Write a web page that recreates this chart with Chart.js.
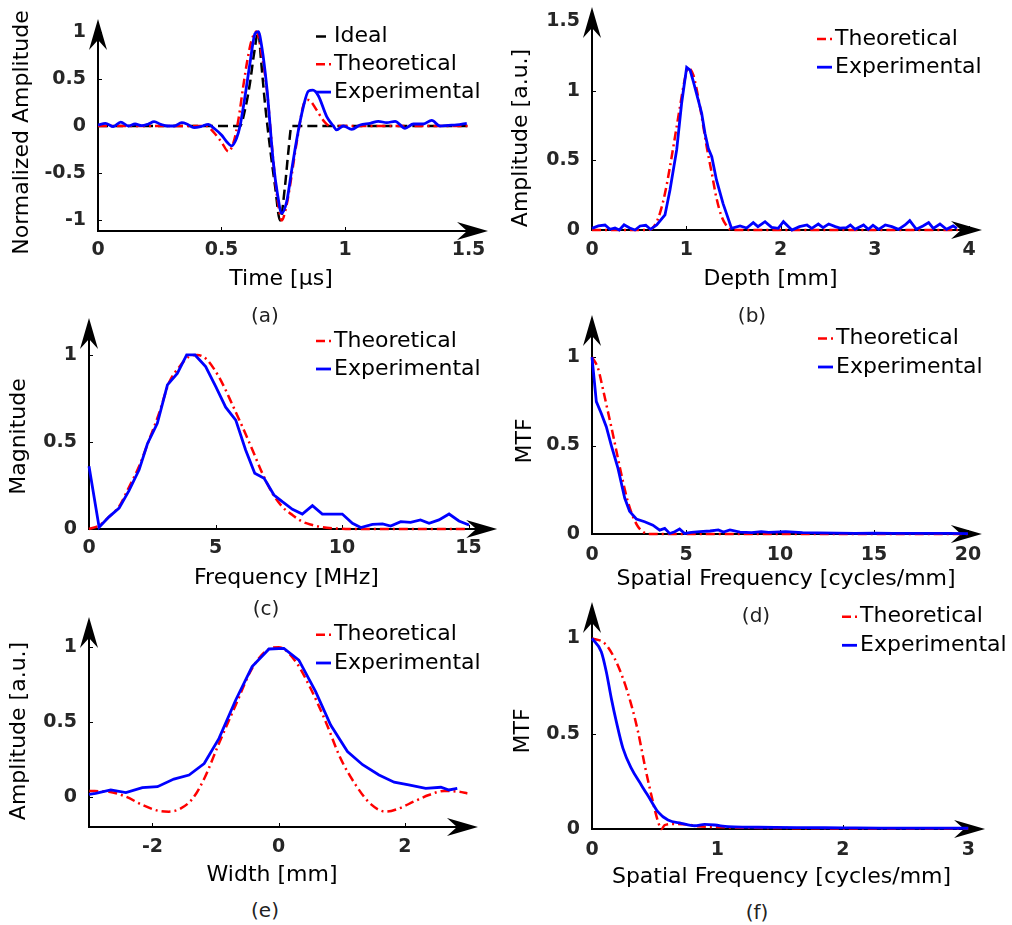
<!DOCTYPE html>
<html><head><meta charset="utf-8">
<script src="https://cdn.jsdelivr.net/npm/chart.js@4.4.1/dist/chart.umd.min.js"></script>
<style>
html,body{margin:0;padding:0;background:#fff;}
#fig{position:relative;width:1012px;height:925px;overflow:hidden;background:#fff;}
canvas{position:absolute;}
.cap{position:absolute;width:80px;text-align:center;font:20px "DejaVu Sans",sans-serif;color:#222;line-height:24px;}
</style></head><body><div id="fig">
<canvas id="pa"></canvas><canvas id="pb"></canvas>
<canvas id="pc"></canvas><canvas id="pd"></canvas>
<canvas id="pe"></canvas><canvas id="pf"></canvas>
<div class="cap" style="left:225px;top:303px">(a)</div>
<div class="cap" style="left:712px;top:303px">(b)</div>
<div class="cap" style="left:226px;top:596px">(c)</div>
<div class="cap" style="left:716px;top:603px">(d)</div>
<div class="cap" style="left:225px;top:898px">(e)</div>
<div class="cap" style="left:717px;top:900px">(f)</div>
</div>
<script>
// ---------- Panel (a): pulse in time ----------
const aIdealT = [0, 0.575, 0.595, 0.615, 0.632, 0.649, 0.66, 0.676, 0.696, 0.717, 0.737, 0.757, 0.77, 0.784, 1.5];
const aIdealV = [0, 0, 0.17, 0.45, 0.77, 1.0, 0.70, 0.24, -0.22, -0.64, -1.0, -0.64, -0.29, 0, 0];
const aTheoT = [0, 0.44, 0.466, 0.5, 0.528, 0.548, 0.568, 0.588, 0.605, 0.622, 0.642, 0.66, 0.683, 0.71, 0.728, 0.744, 0.76, 0.777, 0.804, 0.838, 0.852, 0.885, 0.912, 0.94, 1.5];
const aTheoV = [0, 0, -0.06, -0.17, -0.27, -0.18, 0.06, 0.42, 0.7, 0.91, 1.0, 0.8, 0.4, -0.38, -0.8, -1.0, -0.88, -0.64, -0.18, 0.26, 0.275, 0.17, 0.06, 0, 0];
const aExpT = [0, 0.03, 0.062, 0.092, 0.123, 0.15, 0.177, 0.204, 0.227, 0.254, 0.281, 0.308, 0.339, 0.362, 0.389, 0.416, 0.447, 0.47, 0.5, 0.521, 0.541, 0.561, 0.575, 0.595, 0.615, 0.636, 0.649, 0.663, 0.683, 0.71, 0.726, 0.744, 0.764, 0.784, 0.804, 0.831, 0.852, 0.87, 0.892, 0.926, 0.953, 0.966, 0.993, 1.027, 1.061, 1.102, 1.135, 1.169, 1.203, 1.243, 1.277, 1.317, 1.351, 1.385, 1.418, 1.452, 1.493];
const aExpV = [0.011, 0.028, -0.007, 0.042, 0, 0.021, 0.004, 0.021, 0.046, 0.018, 0, 0, 0.035, 0.018, -0.018, -0.007, 0.018, -0.025, -0.095, -0.166, -0.21, -0.13, 0, 0.31, 0.66, 0.98, 1.0, 0.84, 0.42, -0.39, -0.71, -0.925, -0.80, -0.47, -0.15, 0.2, 0.37, 0.38, 0.32, 0.1, 0, -0.04, 0, -0.035, 0.011, 0.028, 0.05, 0.035, 0.05, -0.025, 0.021, 0.021, 0.06, 0, 0.007, 0.011, 0.028];
const aTicksX = [0, 0.5, 1, 1.5];
const aTicksY = [-1, -0.5, 0, 0.5, 1];

// ---------- Panel (b): axial profile ----------
const bTheoT = [0, 0.6, 0.668, 0.72, 0.774, 0.827, 0.88, 0.933, 0.986, 1.02, 1.045, 1.075, 1.145, 1.216, 1.27, 1.32, 1.375, 1.435, 1.48, 3.88];
const bTheoV = [0, 0, 0.036, 0.12, 0.264, 0.455, 0.67, 0.887, 1.09, 1.163, 1.155, 1.115, 0.887, 0.6, 0.41, 0.23, 0.096, 0.024, 0, 0];
const bExpT = [0, 0.067, 0.138, 0.19, 0.244, 0.29, 0.34, 0.40, 0.456, 0.51, 0.57, 0.62, 0.686, 0.774, 0.827, 0.898, 0.95, 1.004, 1.04, 1.075, 1.127, 1.163, 1.198, 1.233, 1.27, 1.32, 1.39, 1.48, 1.57, 1.64, 1.71, 1.76, 1.835, 1.905, 1.975, 2.03, 2.12, 2.2, 2.28, 2.33, 2.40, 2.45, 2.51, 2.58, 2.63, 2.70, 2.74, 2.79, 2.88, 2.93, 2.98, 3.04, 3.11, 3.18, 3.25, 3.32, 3.37, 3.44, 3.51, 3.57, 3.62, 3.69, 3.76, 3.83, 3.87];
const bExpV = [0.012, 0.029, 0.036, 0.005, 0.014, 0, 0.038, 0.014, 0, 0.029, 0.034, 0.005, 0.036, 0.108, 0.288, 0.576, 0.91, 1.17, 1.15, 1.067, 0.935, 0.84, 0.696, 0.588, 0.527, 0.36, 0.19, 0.012, 0.029, 0.014, 0.053, 0.024, 0.06, 0.019, 0.012, 0.06, 0, 0.024, 0.036, 0.012, 0.043, 0.017, 0.043, 0.024, 0.014, 0.017, 0.036, 0.005, 0.036, 0.005, 0.034, 0.005, 0.036, 0.024, 0.005, 0.036, 0.067, 0.005, 0.029, 0.053, 0.012, 0.043, 0.005, 0.029, 0.012];
const bTicksX = [0, 1, 2, 3, 4];
const bTicksY = [0, 0.5, 1, 1.5];

// ---------- Panel (c): spectrum ----------
const cTheoF = [0, 0.4, 0.79, 1.19, 1.58, 1.98, 2.37, 2.77, 3.16, 3.56, 3.95, 4.28, 4.61, 4.94, 5.27, 5.67, 6.06, 6.46, 6.85, 7.25, 7.64, 8.04, 8.43, 8.83, 9.22, 9.75, 10.3, 15];
const cTheoV = [0, 0.02, 0.07, 0.13, 0.24, 0.36, 0.51, 0.665, 0.84, 0.93, 0.99, 1.0, 0.98, 0.92, 0.837, 0.713, 0.588, 0.454, 0.32, 0.205, 0.128, 0.08, 0.042, 0.023, 0.01, 0.003, 0, 0];
const cExpF = [0, 0.4, 0.79, 1.19, 1.58, 1.98, 2.31, 2.7, 3.1, 3.49, 3.86, 4.19, 4.61, 5.01, 5.4, 5.8, 6.19, 6.55, 6.92, 7.31, 7.64, 8.04, 8.43, 8.83, 9.22, 9.62, 10.01, 10.41, 10.74, 11.2, 11.6, 11.92, 12.32, 12.71, 13.1, 13.44, 13.83, 14.23, 14.62, 15.02];
const cExpV = [0.36, 0.01, 0.07, 0.12, 0.22, 0.34, 0.49, 0.607, 0.828, 0.894, 1.0, 1.0, 0.933, 0.818, 0.70, 0.626, 0.454, 0.32, 0.291, 0.195, 0.157, 0.113, 0.086, 0.134, 0.086, 0.086, 0.086, 0.033, 0.008, 0.027, 0.029, 0.017, 0.042, 0.038, 0.052, 0.033, 0.052, 0.086, 0.046, 0.023];
const cTicksX = [0, 5, 10, 15];
const cTicksY = [0, 0.5, 1];

// ---------- Panel (d): axial MTF ----------
const dTheoF = [0, 0.32, 0.58, 0.85, 1.12, 1.38, 1.65, 1.91, 2.18, 2.45, 2.71, 2.98, 20];
const dTheoV = [1.0, 0.936, 0.82, 0.69, 0.56, 0.427, 0.295, 0.182, 0.098, 0.041, 0.013, 0, 0];
const dExpF = [0, 0.23, 0.5, 0.76, 1.03, 1.38, 1.74, 2.0, 2.36, 2.8, 3.24, 3.6, 3.87, 4.13, 4.4, 4.66, 4.93, 5.28, 5.74, 6.28, 6.72, 6.99, 7.34, 7.87, 8.49, 9.0, 9.4, 10.3, 11.2, 12, 13, 14, 15, 16, 17, 18, 19, 20];
const dExpV = [1.0, 0.748, 0.68, 0.606, 0.50, 0.372, 0.203, 0.128, 0.085, 0.069, 0.05, 0.022, 0.032, 0.003, 0.013, 0.028, 0.003, 0.009, 0.013, 0.017, 0.023, 0.011, 0.023, 0.011, 0.008, 0.013, 0.009, 0.013, 0.008, 0.006, 0.005, 0.004, 0.005, 0.003, 0.004, 0.003, 0.003, 0.002];
const dTicksX = [0, 5, 10, 15, 20];
const dTicksY = [0, 0.5, 1];

// ---------- Panel (e): lateral profile ----------
const eTheoW = [-3.0, -2.69, -2.42, -2.16, -1.90, -1.74, -1.55, -1.36, -1.18, -0.945, -0.68, -0.42, -0.153, 0, 0.27, 0.505, 0.745, 0.98, 1.22, 1.46, 1.70, 1.91, 2.14, 2.38, 2.62, 2.86, 2.99];
const eTheoV = [0.038, 0.033, 0, -0.055, -0.095, -0.10, -0.078, -0.011, 0.12, 0.357, 0.614, 0.859, 0.988, 1.0, 0.903, 0.725, 0.502, 0.257, 0.079, -0.05, -0.10, -0.078, -0.033, 0.011, 0.038, 0.033, 0.022];
const eExpW = [-3.006, -2.9, -2.66, -2.42, -2.16, -1.92, -1.66, -1.42, -1.18, -0.945, -0.68, -0.42, -0.153, 0.083, 0.32, 0.586, 0.824, 1.09, 1.33, 1.59, 1.83, 2.06, 2.33, 2.57, 2.70, 2.83];
const eExpV = [0.016, 0.022, 0.045, 0.027, 0.06, 0.067, 0.118, 0.145, 0.222, 0.39, 0.647, 0.87, 0.988, 0.992, 0.914, 0.703, 0.479, 0.302, 0.214, 0.145, 0.097, 0.079, 0.056, 0.063, 0.045, 0.056];
const eTicksX = [-2, 0, 2];
const eTicksY = [0, 0.5, 1];

// ---------- Panel (f): lateral MTF ----------
const fTheoF = [0, 0.101, 0.18, 0.247, 0.314, 0.367, 0.42, 0.473, 0.526, 0.553, 0.58, 0.65, 0.76, 0.83, 1.0, 1.5, 2.0, 3.0];
const fTheoV = [1.0, 0.974, 0.895, 0.79, 0.65, 0.51, 0.336, 0.178, 0.04, 0.0, 0.02, 0.026, 0.024, 0.015, 0.01, 0.005, 0.003, 0.002];
const fExpF = [0, 0.074, 0.114, 0.154, 0.194, 0.247, 0.314, 0.394, 0.46, 0.526, 0.606, 0.712, 0.819, 0.898, 0.978, 1.085, 1.24, 1.457, 1.7, 2.0, 2.3, 2.6, 3.0];
const fExpV = [1.0, 0.93, 0.825, 0.685, 0.563, 0.423, 0.318, 0.23, 0.16, 0.09, 0.047, 0.03, 0.017, 0.024, 0.021, 0.012, 0.01, 0.008, 0.007, 0.006, 0.005, 0.005, 0.004];
const fTicksX = [0, 1, 2, 3];
const fTicksY = [0, 0.5, 1];

// ---------- helpers ----------
const FONT = '"DejaVu Sans", "Liberation Sans", sans-serif';
const zip = (xs, ys) => xs.map((x, i) => ({x: x, y: ys[i]}));

function ideal(xs, ys) {
  return {label: 'Ideal', data: zip(xs, ys), borderColor: '#000000', borderWidth: 2.5,
    borderDash: [10, 5], order: 3, cubicInterpolationMode: 'monotone', pointRadius: 0, fill: false, clip: false};
}
function theo(xs, ys) {
  return {label: 'Theoretical', data: zip(xs, ys), borderColor: '#ff0000', borderWidth: 2.5,
    borderDash: [9, 4, 2, 4], order: 2, cubicInterpolationMode: 'monotone', pointRadius: 0, fill: false, clip: false};
}
function expe(xs, ys, smooth) {
  const d = {label: 'Experimental', data: zip(xs, ys), borderColor: '#0000ff', borderWidth: 2.8,
    order: 1, pointRadius: 0, fill: false, clip: false, tension: 0};
  if (smooth) d.cubicInterpolationMode = 'monotone';
  return d;
}

const axisArrows = {
  id: 'axisArrows',
  beforeDatasetsDraw(chart, args, o) {
    const ctx = chart.ctx, a = chart.chartArea, xs = chart.scales.x, ys = chart.scales.y;
    const ox = a.left, oy = a.bottom;
    const tx = xs.getPixelForValue(o.xTip), ty = ys.getPixelForValue(o.yTip);
    ctx.save();
    ctx.strokeStyle = '#000'; ctx.fillStyle = '#000';
    ctx.lineWidth = 1;
    ctx.beginPath();
    o.xTicks.forEach(v => { const p = xs.getPixelForValue(v); if (Math.abs(p - ox) > 2) { ctx.moveTo(Math.round(p) + 0.5, oy); ctx.lineTo(Math.round(p) + 0.5, oy - 4); } });
    o.yTicks.forEach(v => { const p = ys.getPixelForValue(v); if (Math.abs(p - oy) > 2) { ctx.moveTo(ox, Math.round(p) + 0.5); ctx.lineTo(ox + 4, Math.round(p) + 0.5); } });
    ctx.stroke();
    ctx.lineWidth = 2;
    ctx.beginPath();
    ctx.moveTo(ox - 1, oy); ctx.lineTo(tx - 12, oy);
    ctx.moveTo(ox, oy + 1); ctx.lineTo(ox, ty + 12);
    ctx.stroke();
    const L = 31, W = 9, N = 10;
    ctx.beginPath();
    ctx.moveTo(tx, oy); ctx.lineTo(tx - L, oy - W); ctx.lineTo(tx - L + N, oy); ctx.lineTo(tx - L, oy + W); ctx.closePath();
    ctx.fill();
    ctx.beginPath();
    ctx.moveTo(ox, ty); ctx.lineTo(ox - W, ty + L); ctx.lineTo(ox, ty + L - N); ctx.lineTo(ox + W, ty + L); ctx.closePath();
    ctx.fill();
    ctx.restore();
  }
};

const insideLegend = {
  id: 'insideLegend',
  afterDraw(chart, args, o) {
    const ctx = chart.ctx;
    ctx.save();
    ctx.font = '22px ' + FONT;
    ctx.textBaseline = 'middle';
    ctx.textAlign = 'left';
    chart.data.datasets.forEach((ds, i) => {
      const y = o.y + i * o.dy;
      ctx.save();
      ctx.strokeStyle = ds.borderColor;
      ctx.lineWidth = ds.borderWidth;
      ctx.setLineDash(ds.borderDash || []);
      ctx.beginPath();
      ctx.moveTo(o.x - 18, y); ctx.lineTo(o.x - 3, y);
      ctx.stroke();
      ctx.restore();
      ctx.fillStyle = '#000';
      ctx.fillText(ds.label, o.x, y);
    });
    ctx.restore();
  }
};

function makePanel(p) {
  const cv = document.getElementById(p.id);
  cv.width = p.box.w; cv.height = p.box.h;
  cv.style.left = p.box.x + 'px'; cv.style.top = p.box.y + 'px';
  const A = p.area;
  const bottomEdge = p.box.y + p.box.h;
  const tickFont = {family: FONT, size: 19, weight: 'bold'};
  const titleFont = {family: FONT, size: 22, weight: 'normal'};
  new Chart(cv, {
    type: 'line',
    data: {datasets: p.datasets},
    options: {
      responsive: false, animation: false, devicePixelRatio: 1, events: [],
      layout: {padding: {left: 0, top: A.t - p.box.y, right: p.box.x + p.box.w - A.r, bottom: 0}},
      plugins: {
        legend: {display: false}, tooltip: {enabled: false},
        axisArrows: {xTip: p.xTip, yTip: p.yTip, xTicks: p.xTicks, yTicks: p.yTicks},
        insideLegend: {x: p.legend.x - p.box.x, y: p.legend.y - p.box.y, dy: p.legend.dy}
      },
      scales: {
        x: {
          type: 'linear', position: 'bottom', bounds: 'data',
          afterDataLimits: s => { s.min = p.xRange[0]; s.max = p.xRange[1]; },
          afterBuildTicks: s => { s.ticks = p.xTicks.map(v => ({value: v})); },
          afterFit: s => { s.height = bottomEdge - A.b; },
          grid: {display: false, drawTicks: false}, border: {display: false},
          ticks: {autoSkip: false, maxRotation: 0, minRotation: 0, padding: p.xTickPad, font: tickFont, color: '#262626', callback: v => String(v)},
          title: {display: true, text: p.xTitle, font: titleFont, color: '#000', padding: {top: 0, bottom: bottomEdge - p.xTitleY - 13.2}}
        },
        y: {
          type: 'linear', position: 'left', bounds: 'data',
          afterDataLimits: s => { s.min = p.yRange[0]; s.max = p.yRange[1]; },
          afterBuildTicks: s => { s.ticks = p.yTicks.map(v => ({value: v})); },
          afterFit: s => { s.width = A.l - p.box.x; },
          grid: {display: false, drawTicks: false}, border: {display: false},
          ticks: {autoSkip: false, padding: 12, font: tickFont, color: '#262626', callback: v => String(v)},
          title: {display: true, text: p.yTitle, font: titleFont, color: '#000', padding: {top: p.yTitleX - p.box.x - 13.2, bottom: 0}}
        }
      }
    },
    plugins: [axisArrows, insideLegend]
  });
}

makePanel({
  id: 'pa', box: {x: 0, y: 0, w: 504, h: 297}, area: {l: 98, t: 34, r: 464, b: 231},
  xRange: [0, 1.4818], yRange: [-1.1123, 0.9746], xTicks: aTicksX, yTicks: aTicksY,
  xTip: 1.579, yTip: 1.133, xTickPad: 7.6,
  xTitle: 'Time [μs]', yTitle: 'Normalized Amplitude', xTitleY: 279.7, yTitleX: 22.4,
  legend: {x: 334, y: 36.5, dy: 27.8},
  datasets: [ideal(aIdealT, aIdealV), theo(aTheoT, aTheoV), expe(aExpT, aExpV, true)]
});
makePanel({
  id: 'pb', box: {x: 500, y: 0, w: 512, h: 297}, area: {l: 592, t: 46, r: 949, b: 230},
  xRange: [0, 3.786], yRange: [0, 1.3237], xTicks: bTicksX, yTicks: bTicksY,
  xTip: 4.136, yTip: 1.604, xTickPad: 8.6,
  xTitle: 'Depth [mm]', yTitle: 'Amplitude [a.u.]', xTitleY: 279.7, yTitleX: 521.7,
  legend: {x: 835, y: 39, dy: 28.2},
  datasets: [theo(bTheoT, bTheoV), expe(bExpT, bExpV, false)]
});
makePanel({
  id: 'pc', box: {x: 0, y: 300, w: 504, h: 296}, area: {l: 89, t: 344, r: 484, b: 529},
  xRange: [0, 15.61], yRange: [0, 1.063], xTicks: cTicksX, yTicks: cTicksY,
  xTip: 16.13, yTip: 1.213, xTickPad: 7.9,
  xTitle: 'Frequency [MHz]', yTitle: 'Magnitude', xTitleY: 578.4, yTitleX: 19.4,
  legend: {x: 334, y: 341, dy: 28},
  datasets: [theo(cTheoF, cTheoV), expe(cExpF, cExpV, false)]
});
makePanel({
  id: 'pd', box: {x: 500, y: 300, w: 512, h: 296}, area: {l: 592, t: 348, r: 980, b: 534},
  xRange: [0, 20.64], yRange: [0, 1.051], xTicks: dTicksX, yTicks: dTicksY,
  xTip: 20.74, yTip: 1.237, xTickPad: 9.9,
  xTitle: 'Spatial Frequency [cycles/mm]', yTitle: 'MTF', xTitleY: 579, yTitleX: 525,
  legend: {x: 836, y: 338.5, dy: 28.5},
  datasets: [theo(dTheoF, dTheoV), expe(dExpF, dExpV, false)]
});
makePanel({
  id: 'pe', box: {x: 0, y: 598, w: 504, h: 295}, area: {l: 89, t: 635, r: 455, b: 827},
  xRange: [-3.005, 2.794], yRange: [-0.2027, 1.0816], xTicks: eTicksX, yTicks: eTicksY,
  xTip: 3.158, yTip: 1.202, xTickPad: 9.1,
  xTitle: 'Width [mm]', yTitle: 'Amplitude [a.u.]', xTitleY: 875.7, yTitleX: 19.4,
  legend: {x: 334, y: 634.7, dy: 28.3},
  datasets: [theo(eTheoW, eTheoV), expe(eExpW, eExpV, false)]
});
makePanel({
  id: 'pf', box: {x: 500, y: 595, w: 512, h: 300}, area: {l: 592, t: 633, r: 971, b: 829},
  xRange: [0, 3.022], yRange: [0, 1.028], xTicks: fTicksX, yTicks: fTicksY,
  xTip: 3.134, yTip: 1.19, xTickPad: 10.1,
  xTitle: 'Spatial Frequency [cycles/mm]', yTitle: 'MTF', xTitleY: 877.4, yTitleX: 523.3,
  legend: {x: 860, y: 616.7, dy: 28.6},
  datasets: [theo(fTheoF, fTheoV), expe(fExpF, fExpV, true)]
});
</script>
</body></html>
